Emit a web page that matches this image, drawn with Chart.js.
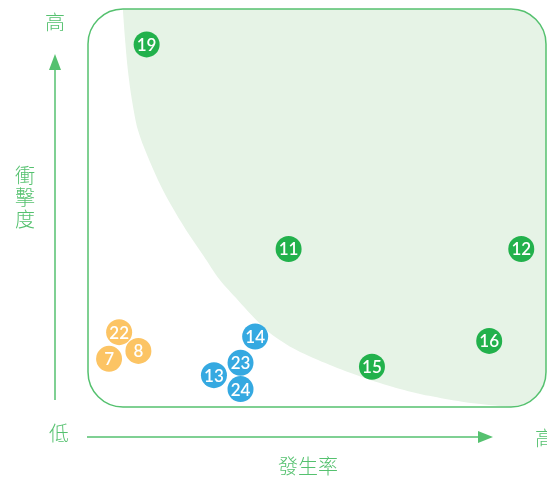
<!DOCTYPE html>
<html>
<head>
<meta charset="utf-8">
<script src="https://cdn.jsdelivr.net/npm/chart.js@4"></script>
<style>
  html, body { margin: 0; padding: 0; background: #fff; }
  #wrap { width: 547px; height: 477px; position: relative; }
</style>
</head>
<body>
<div id="wrap"><canvas id="grafica"></canvas></div>
<script>
// ===============================
// DATOS
// ===============================
const greenIds = ["19", "11", "12", "16", "15"];
const greenX = [12.8, 43.8, 94.6, 87.6, 62.0];
const greenY = [91.1, 39.7, 39.7, 16.6, 10.1];

const blueIds = ["14", "23", "13", "24"];
const blueX = [36.5, 33.3, 27.5, 33.3];
const blueY = [17.7, 11.1, 8.0, 4.5];

const orangeIds = ["22", "8", "7"];
const orangeX = [6.8, 11.0, 4.6];
const orangeY = [18.8, 14.1, 12.1];

// borde de la zona sombreada
const curveX = [7.6, 8.1, 8.7, 9.6, 10.9, 12.9, 15.3, 18.1, 21.4, 25.1, 28.8, 32.7, 35.7, 39.7, 45.5, 52.7, 59.9, 67.3, 74.5, 81.7, 87.6, 93.0, 100];
const curveY = [100, 92.2, 84.7, 77.1, 69.6, 63.3, 57.0, 50.8, 44.5, 38.2, 31.9, 26.9, 23.1, 18.6, 14.3, 10.6, 7.5, 4.8, 2.8, 1.3, 0.5, 0, 0];

const yLabel = ["衝", "擊", "度"];
const xLabel = "發生率";
const lowLabel = "低";
const highLabel = "高";

const GREEN = "#22b14c";
const BLUE = "#35a9e1";
const ORANGE = "#fcc464";
const LINE = "#55c16f";
const SHADE = "#e6f3e6";
const CJK = '"Noto Sans CJK TC", "Noto Sans CJK SC", sans-serif';

function puntos(xs, ys) {
    return xs.map((x, i) => ({ x: x, y: ys[i] }));
}

function rectRedondo(ctx, a, r) {
    ctx.beginPath();
    ctx.roundRect(a.left, a.top, a.right - a.left, a.bottom - a.top, r);
}

// ===============================
// PLUGIN: marco, etiquetas y flechas
// ===============================
const marco = {
    id: "marco",
    beforeDatasetsDraw(chart) {
        const ctx = chart.ctx;
        ctx.save();
        rectRedondo(ctx, chart.chartArea, 35);
        ctx.clip();
    },
    afterDatasetsDraw(chart) {
        const ctx = chart.ctx;
        ctx.restore();

        // borde
        ctx.save();
        rectRedondo(ctx, chart.chartArea, 35);
        ctx.strokeStyle = LINE;
        ctx.lineWidth = 1.5;
        ctx.stroke();
        ctx.restore();

        // números en los círculos
        ctx.save();
        ctx.fillStyle = "#fff";
        ctx.font = '600 17px Lato, "Open Sans", sans-serif';
        ctx.textAlign = "center";
        ctx.textBaseline = "middle";
        chart.data.datasets.forEach((ds, di) => {
            if (!ds.ids) return;
            chart.getDatasetMeta(di).data.forEach((p, i) => {
                ctx.fillText(ds.ids[i], p.x, p.y + 1);
            });
        });
        ctx.restore();
    },
    afterDraw(chart) {
        const ctx = chart.ctx;
        const a = chart.chartArea;
        ctx.save();
        ctx.strokeStyle = LINE;
        ctx.fillStyle = LINE;
        ctx.lineWidth = 1.5;

        // flecha vertical
        const vx = a.left - 33;
        ctx.beginPath();
        ctx.moveTo(vx, a.bottom - 7);
        ctx.lineTo(vx, a.top + 60);
        ctx.stroke();
        ctx.beginPath();
        ctx.moveTo(vx, a.top + 45);
        ctx.lineTo(vx - 6, a.top + 61);
        ctx.lineTo(vx + 6, a.top + 61);
        ctx.closePath();
        ctx.fill();

        // flecha horizontal
        const hy = a.bottom + 30;
        ctx.beginPath();
        ctx.moveTo(a.left - 1, hy);
        ctx.lineTo(a.left + 392, hy);
        ctx.stroke();
        ctx.beginPath();
        ctx.moveTo(a.left + 405, hy);
        ctx.lineTo(a.left + 390, hy - 6);
        ctx.lineTo(a.left + 390, hy + 6);
        ctx.closePath();
        ctx.fill();

        // textos
        ctx.font = "300 20px " + CJK;
        ctx.textAlign = "center";
        ctx.textBaseline = "middle";
        ctx.fillText(highLabel, 55, 22);
        yLabel.forEach((c, i) => ctx.fillText(c, 25, 175 + i * 22));
        ctx.fillText(lowLabel, 59, 433);
        ctx.fillText(xLabel, 308, 466);
        ctx.textAlign = "left";
        ctx.fillText(highLabel, 535, 438);
        ctx.restore();
    }
};

// ===============================
// GRÁFICA
// ===============================
const ctx = document.getElementById("grafica").getContext("2d");

const grafica = new Chart(ctx, {
    type: "scatter",
    data: {
        datasets: [
            {
                ids: greenIds,
                data: puntos(greenX, greenY),
                backgroundColor: GREEN,
                borderWidth: 0,
                pointRadius: 13,
                order: 0
            },
            {
                ids: blueIds,
                data: puntos(blueX, blueY),
                backgroundColor: BLUE,
                borderWidth: 0,
                pointRadius: 13,
                order: 1
            },
            {
                ids: orangeIds,
                data: puntos(orangeX, orangeY),
                backgroundColor: ORANGE,
                borderWidth: 0,
                pointRadius: 13,
                order: 2
            },
            {
                data: puntos(curveX, curveY),
                showLine: true,
                fill: "end",
                backgroundColor: SHADE,
                borderColor: "transparent",
                borderWidth: 0,
                pointRadius: 0,
                tension: 0.3,
                order: 10
            }
        ]
    },
    options: {
        responsive: true,
        maintainAspectRatio: false,
        animation: false,
        layout: {
            autoPadding: false,
            padding: { left: 88, right: 1, top: 9, bottom: 70 }
        },
        plugins: {
            legend: { display: false },
            tooltip: { enabled: false }
        },
        scales: {
            x: { type: "linear", min: 0, max: 100, display: false },
            y: { type: "linear", min: 0, max: 100, display: false }
        }
    },
    plugins: [marco]
});
</script>
</body>
</html>
